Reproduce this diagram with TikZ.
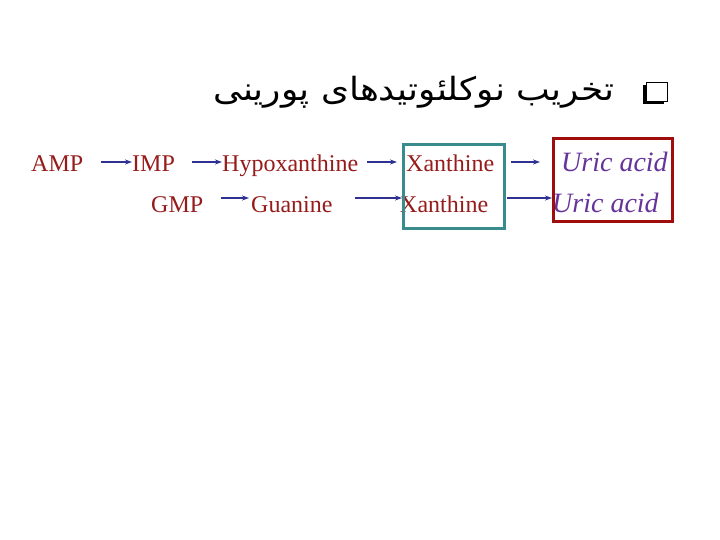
\documentclass[tikz,border=0pt]{standalone}
\usepackage{fontspec}
\setmainfont{Liberation Serif}
\newfontfamily\arabicfont[Script=Arabic]{DejaVu Sans}
\TeXXeTstate=1
\usetikzlibrary{arrows.meta}
\definecolor{txtred}{HTML}{961B1B}
\definecolor{acidpurple}{HTML}{663399}
\definecolor{arrowblue}{HTML}{2E3192}
\definecolor{tealbox}{HTML}{3A8C8C}
\definecolor{redbox}{HTML}{A00D0D}
\begin{document}
\begin{tikzpicture}[x=1pt,y=-1pt,
  mol/.style={inner sep=0pt, anchor=base west, text=txtred, font=\fontsize{24}{28}\selectfont},
  acid/.style={inner sep=0pt, anchor=base west, text=acidpurple, font=\fontsize{28}{32}\selectfont\itshape},
  rowone/.style={text height=20pt, text depth=0pt},
  rowtwo/.style={text height=30pt, text depth=0pt},
  arr/.style={draw=arrowblue, line width=1.5pt, -{Stealth[length=7pt,width=5pt]}}
]
\fill[white] (0,0) rectangle (720,540);
\useasboundingbox (0,0) rectangle (720,540);

% title
\node[inner sep=0pt, anchor=base east, font=\arabicfont\fontsize{32}{36}\selectfont] (title) at (615,101) {\scalebox{1.12}[1]{\beginR تخریب نوکلئوتیدهای پورینی\endR}};
\fill[black] (643,85) rectangle (664,104);
\filldraw[fill=white, draw=black, line width=0.8pt] (646,82) rectangle (667,101);

% row 1
\node[mol,rowone] (amp) at (31,172) {AMP};
\node[mol,rowone] (imp) at (132,172) {IMP};
\node[mol,rowone] (hypo) at (222,172) {Hypoxanthine};
\node[mol,rowone] (xan1) at (406,172) {Xanthine};
\node[acid,rowone] (uric1) at (561,172) {Uric acid};

% row 2
\node[mol,rowtwo] (gmp) at (151,213) {GMP};
\node[mol,rowtwo] (gua) at (251,213) {Guanine};
\node[mol,rowtwo] (xan2) at (400,213) {Xanthine};
\node[acid,rowtwo] (uric2) at (552,213) {Uric acid};

% arrows
\draw[arr, shorten <=18pt] (amp) -- (imp);
\draw[arr, shorten <=17pt] (imp) -- (hypo);
\draw[arr, shorten <=9pt, shorten >=9pt] (hypo) -- (xan1);
\draw[arr, shorten <=17pt, shorten >=21pt] (xan1) -- (uric1);
\draw[arr, shorten <=18pt, shorten >=2pt] (gmp) -- (gua);
\draw[arr, shorten <=22pt, shorten >=-2pt] (gua) -- (xan2);
\draw[arr, shorten <=19pt, shorten >=0pt] (xan2) -- (uric2);

% boxes
\draw[tealbox, line width=3pt] (403.5,144.5) rectangle (504.5,228.5);
\draw[redbox, line width=3pt] (553.5,138.5) rectangle (672.5,221.5);
\end{tikzpicture}
\end{document}
